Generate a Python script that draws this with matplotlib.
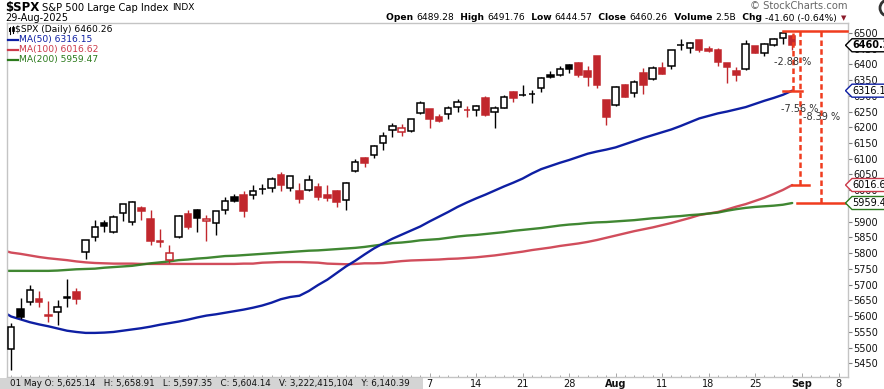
import matplotlib
matplotlib.use("Agg")
import matplotlib.pyplot as plt
import numpy as np
from matplotlib.lines import Line2D
from matplotlib.patches import Polygon, Rectangle, Circle
from matplotlib.transforms import IdentityTransform

W, H, DPI = 884, 389, 100

# daily candles, 30-Apr-2025 .. 29-Aug-2025 (trading days)
opens = [5494.9, 5621.9, 5644.1, 5654.6, 5602.2, 5612.4, 5659.4, 5676.8, 5802.9, 5850.5,
         5895.9, 5866.3, 5926.7, 5900.0, 5943.5, 5908.6, 5838.4, 5778.4, 5850.5, 5923.5,
         5936.2, 5901.3, 5894.9, 5936.2, 5977.5, 5984.8, 5983.8, 6003.2, 6006.0, 6048.2,
         6006.0, 5997.5, 6000.6, 6010.2, 5984.8, 5997.5, 5967.9, 6060.0, 6102.2, 6110.8,
         6148.9, 6190.1, 6183.8, 6188.9, 6244.1, 6257.8, 6232.4, 6240.9, 6263.2, 6254.0,
         6253.6, 6292.7, 6249.2, 6261.0, 6310.8, 6301.6, 6306.3, 6323.5, 6364.7, 6366.7,
         6396.5, 6403.8, 6378.4, 6426.0, 6286.3, 6269.5, 6333.0, 6307.6, 6371.1, 6352.1,
         6388.0, 6393.3, 6460.3, 6450.5, 6476.8, 6449.2, 6445.1, 6404.8, 6378.4, 6383.8,
         6457.8, 6434.6, 6460.0, 6482.2, 6489.28]
highs = [5577.4, 5656.8, 5698.1, 5680.0, 5648.2, 5651.4, 5718.1, 5689.5, 5842.0, 5905.4,
         5905.4, 5920.3, 5956.5, 5964.8, 5949.8, 5937.1, 5875.9, 5826.0, 5920.3, 5936.2,
         5939.4, 5921.3, 5934.0, 5977.5, 5987.0, 5997.5, 6016.5, 6018.7, 6042.9, 6058.7,
         6045.0, 6023.8, 6048.2, 6023.8, 6016.5, 6000.6, 6027.0, 6098.1, 6106.3, 6143.5,
         6183.8, 6212.4, 6209.2, 6226.0, 6282.2, 6259.0, 6240.9, 6268.2, 6288.6, 6268.2,
         6270.5, 6299.0, 6266.3, 6301.3, 6314.9, 6333.0, 6317.1, 6359.4, 6377.5, 6393.3,
         6401.6, 6406.0, 6393.3, 6427.0, 6287.5, 6329.8, 6336.2, 6348.9, 6388.9, 6393.3,
         6407.0, 6445.0, 6479.1, 6471.4, 6477.8, 6456.8, 6452.4, 6405.5, 6391.1, 6477.8,
         6458.5, 6466.3, 6482.2, 6506.3, 6491.76]
lows = [5429.2, 5591.1, 5636.5, 5630.1, 5582.5, 5572.0, 5630.1, 5639.7, 5782.5, 5839.7,
        5868.3, 5863.2, 5903.2, 5890.5, 5906.3, 5826.9, 5820.6, 5767.9, 5848.9, 5877.8,
        5868.3, 5839.7, 5858.7, 5925.4, 5963.5, 5915.9, 5973.0, 5988.9, 5995.3, 5998.4,
        5998.4, 5960.3, 5999.0, 5969.8, 5966.7, 5947.6, 5938.1, 6056.8, 6073.6, 6103.2,
        6128.6, 6169.8, 6173.0, 6185.7, 6243.0, 6198.4, 6215.5, 6227.0, 6249.2, 6233.3,
        6236.5, 6235.5, 6198.4, 6260.0, 6281.0, 6300.0, 6277.8, 6312.7, 6357.1, 6362.5,
        6373.0, 6359.4, 6331.7, 6325.4, 6207.9, 6268.0, 6295.0, 6296.8, 6306.3, 6350.0,
        6368.5, 6383.8, 6446.0, 6436.5, 6439.7, 6439.7, 6394.3, 6341.3, 6346.7, 6382.0,
        6435.5, 6426.0, 6456.8, 6463.2, 6444.57]
closes = [5564.8, 5598.4, 5682.2, 5646.0, 5603.5, 5628.3, 5660.6, 5655.5, 5840.9, 5882.2,
          5887.3, 5913.9, 5955.2, 5961.6, 5934.9, 5839.7, 5837.1, 5799.7, 5917.1, 5884.2,
          5910.8, 5908.6, 5933.0, 5965.0, 5966.7, 5934.9, 5997.5, 6004.4, 6035.6, 6017.5,
          6044.1, 5973.0, 6031.4, 5979.4, 5976.2, 5963.5, 6022.8, 6088.6, 6087.3, 6139.4,
          6171.1, 6202.8, 6196.5, 6225.1, 6275.9, 6227.0, 6220.6, 6260.0, 6279.0, 6255.3,
          6266.3, 6239.7, 6260.0, 6294.9, 6293.6, 6302.9, 6304.8, 6355.2, 6360.3, 6384.5,
          6385.7, 6366.7, 6360.3, 6334.9, 6233.3, 6326.7, 6296.8, 6342.5, 6334.9, 6387.0,
          6369.8, 6444.1, 6461.6, 6466.3, 6446.0, 6442.9, 6407.9, 6391.1, 6365.7, 6463.2,
          6436.5, 6464.1, 6479.1, 6498.1, 6460.26]
prev_close = 5560.8  # 29-Apr close, colours the first candle

# moving averages, 29-Apr .. 29-Aug (first point sits just left of the frame)
ma50 = [5616, 5599, 5590, 5581, 5574, 5568, 5561, 5554, 5550, 5547, 5547, 5548, 5550, 5554,
        5558, 5562, 5567, 5573, 5578, 5583, 5589, 5596, 5602, 5606, 5611, 5616, 5621, 5627,
        5634, 5643, 5654, 5661, 5665, 5680, 5699, 5716, 5737, 5758, 5776, 5796, 5815, 5831,
        5846, 5859, 5872, 5885, 5901, 5916, 5931, 5947, 5961, 5974, 5986, 5999, 6012, 6024,
        6037, 6053, 6067, 6077, 6087, 6096, 6106, 6116, 6123, 6129, 6136, 6146, 6156, 6166,
        6175, 6184, 6193, 6204, 6216, 6228, 6236, 6244, 6250, 6257, 6264, 6274, 6284, 6293,
        6303, 6316.15]
ma100 = [5810, 5802, 5798, 5793, 5788, 5784, 5781, 5778, 5774, 5771, 5769, 5768, 5767, 5767,
         5767, 5766, 5766, 5766, 5766, 5766, 5766, 5766, 5766, 5766, 5766, 5766, 5767, 5767,
         5770, 5771, 5772, 5772, 5772, 5771, 5770, 5767, 5766, 5765, 5766, 5768, 5768, 5769,
         5772, 5775, 5777, 5778, 5779, 5780, 5782, 5783, 5785, 5787, 5790, 5793, 5797, 5801,
         5805, 5810, 5814, 5818, 5823, 5827, 5831, 5836, 5842, 5849, 5856, 5863, 5870, 5876,
         5882, 5889, 5896, 5904, 5912, 5921, 5926, 5931, 5939, 5948, 5956, 5966, 5976, 5988,
         6001, 6016.62]
ma200 = [5744, 5744, 5744, 5744, 5744, 5744, 5745, 5747, 5749, 5750, 5751, 5754, 5756, 5758,
         5760, 5764, 5768, 5771, 5774, 5778, 5780, 5783, 5785, 5788, 5791, 5792, 5794, 5796,
         5798, 5800, 5802, 5804, 5806, 5808, 5809, 5811, 5813, 5815, 5817, 5820, 5824, 5828,
         5832, 5834, 5837, 5841, 5843, 5845, 5849, 5853, 5856, 5858, 5861, 5864, 5867, 5871,
         5874, 5877, 5880, 5884, 5888, 5891, 5893, 5896, 5898, 5899, 5901, 5903, 5905, 5908,
         5911, 5913, 5916, 5918, 5921, 5923, 5926, 5929, 5935, 5940, 5944, 5947, 5949, 5951,
         5954, 5959.47]

# visible week-start ticks (trading-day index) and labels; earlier ones sit under the info strip
tick_idx = [45, 50, 55, 60, 65, 70, 75, 80, 85, 89]
tick_lbl = ["7", "14", "21", "28", "Aug", "11", "18", "25", "Sep", "8"]
month_lbl = {"Aug", "Sep"}

# drawdown annotation: level of the recent high and the three measured gaps
peak_level = 6505
drop_labels = ["-2.88 %", "-7.56 %", "-8.39 %"]

header_vals = [("Open ", True), ("6489.28", False), ("  High ", True), ("6491.76", False),
               ("  Low ", True), ("6444.57", False), ("  Close ", True), ("6460.26", False),
               ("  Volume ", True), ("2.5B", False), ("  Chg ", True), ("-41.60 (-0.64%)", False)]
info_line = ("01 May O: 5,625.14   H: 5,658.91   L: 5,597.35   C: 5,604.14   "
             "V: 3,222,415,104   Y: 6,140.39")

C_RED = "#c1272d"
C_BLUE = "#0e1fa3"
C_MARED = "#cc3a4a"
C_GREEN = "#2b7a1c"
C_ANN = "#f03c1e"
C_FRAME = "#c4c4c4"

fig = plt.figure(figsize=(W / DPI, H / DPI), dpi=DPI)
ax = fig.add_axes([7.5 / W, 1 - 377 / H, (848 - 7.5) / W, (377 - 23) / H])
ax.set_xlim(-0.4, 90)
ax.set_ylim(5407, 6531)

n = len(closes)
x = np.arange(n)
o, h, l, c = map(np.asarray, (opens, highs, lows, closes))
prev = np.concatenate([[prev_close], c[:-1]])
edge = np.where(c >= prev, "#000000", C_RED)
hollow = c > o

xm = np.arange(-1, n)
ax.plot(xm, ma100, color=C_MARED, lw=1.7, alpha=0.9, zorder=2, solid_capstyle="round")
ax.plot(xm, ma200, color=C_GREEN, lw=1.7, alpha=0.9, zorder=2, solid_capstyle="round")
ax.plot(xm, ma50, color=C_BLUE, lw=1.7, zorder=2, solid_capstyle="round")

ax.vlines(x, l, h, colors=edge, lw=1.0, zorder=3)
body_lo = np.minimum(o, c)
body_h = np.maximum(np.abs(c - o), 0.3)
face = np.where(hollow, "white", edge)
ax.bar(x, body_h, bottom=body_lo, width=0.7, color=face, edgecolor=edge,
       linewidth=1.1, zorder=4)

# drawdown markers to the right of the last candle
last = n - 1
ax.plot([last - 1, 89.9], [peak_level] * 2, color=C_ANN, lw=1.8, zorder=5, clip_on=False)
ax.vlines([last + 0.1, last + 0.8, last + 3.1], [ma50[-1], ma100[-1], ma200[-1]], peak_level,
          colors=C_ANN, lw=1.8, linestyles=(0, (2.2, 1.3)), zorder=5)
ax.plot([last - 1, last + 1.1], [ma50[-1]] * 2, color=C_ANN, lw=1.8, zorder=5)
ax.plot([last, last + 1.8], [ma100[-1]] * 2, color=C_ANN, lw=1.8, zorder=5)
ax.plot([last + 0.5, 89.9], [ma200[-1]] * 2, color=C_ANN, lw=1.8, zorder=5, clip_on=False)
for xi, yi, s in zip([last + 0.05, last + 0.8, last + 3.2], [6408, 6259, 6231], drop_labels):
    ax.text(xi, yi, s, ha="center", va="center", fontsize=7, color="#333333", zorder=6)

# axes styling
for sp in ax.spines.values():
    sp.set_color(C_FRAME)
    sp.set_linewidth(1)
ax.yaxis.tick_right()
ax.set_yticks(np.arange(5450, 6501, 50))
ax.tick_params(axis="y", length=3, width=0.8, color="#808080", labelsize=7,
               labelcolor="#111111", pad=1)
ax.set_xticks(tick_idx)
ax.set_xticklabels(tick_lbl)
ax.set_xticks(np.arange(0, 90), minor=True)
ax.tick_params(axis="x", which="major", length=3, width=0.6, color="#999999",
               labelsize=7, labelcolor="#111111", pad=1.5, direction="in")
ax.tick_params(axis="x", which="minor", length=1.5, width=0.6, color="#999999",
               direction="in")
for t in ax.get_xticklabels():
    if t.get_text() in month_lbl:
        t.set_fontweight("bold")

ident = IdentityTransform()


def fy(ypix):
    return H - ypix


# right-hand price tags
def price_tag(value, label, col, bold=False):
    yd = ax.transData.transform((0, value))[1]
    x0 = ax.transAxes.transform((1, 0))[0]
    hh = 6.5
    pts = [(x0 - 2.5, yd), (x0 + 4, yd + hh), (W + 5, yd + hh), (W + 5, yd - hh), (x0 + 4, yd - hh)]
    fig.add_artist(Polygon(pts, closed=True, facecolor="white", edgecolor=col, lw=1,
                           transform=ident, zorder=10))
    fig.text(x0 + 4.5, yd, label, transform=ident, va="center", ha="left", fontsize=7,
             fontweight="bold" if bold else "normal", color="black", zorder=11)


price_tag(closes[-1], f"{closes[-1]:.2f}", "#000000", bold=True)
price_tag(ma50[-1], f"{ma50[-1]:.2f}", C_BLUE)
price_tag(ma100[-1], f"{ma100[-1]:.2f}", C_MARED)
price_tag(ma200[-1], f"{ma200[-1]:.2f}", C_GREEN)

# header
fig.text(5, fy(8), "$SPX", transform=ident, fontsize=8.5, fontweight="bold", va="center")
fig.text(42, fy(8), "S&P 500 Large Cap Index", transform=ident, fontsize=7.2, va="center")
fig.text(172, fy(8), "INDX", transform=ident, fontsize=6.5, va="center")
fig.text(5, fy(18), "29-Aug-2025", transform=ident, fontsize=7, va="center")
fig.text(848, fy(6), "\u00a9 StockCharts.com", transform=ident, fontsize=7.2,
         color="#666666", va="center", ha="right")
fig.add_artist(Circle((888, fy(8)), 8, transform=ident, facecolor="white",
                      edgecolor="#333333", lw=2, zorder=5))

renderer = fig.canvas.get_renderer()
items = []
for s, b in header_vals:
    t = fig.text(0, fy(18), s, transform=ident, fontsize=6.6, va="center",
                 fontweight="bold" if b else "normal")
    items.append((t, t.get_window_extent(renderer).width))
xpos = 837 - sum(wd for _, wd in items)
for t, wd in items:
    t.set_x(xpos)
    xpos += wd
fig.text(844, fy(18), "\u25bc", transform=ident, fontsize=5, color="#8b1a2a", va="center",
         ha="center")

# legend
legend = [("$SPX (Daily) " + f"{closes[-1]:.2f}", "#000000"),
          (f"MA(50) {ma50[-1]:.2f}", C_BLUE),
          (f"MA(100) {ma100[-1]:.2f}", C_MARED),
          (f"MA(200) {ma200[-1]:.2f}", C_GREEN)]
for k, (s, col) in enumerate(legend):
    yl = fy(29.5 + 10 * k)
    fig.text(15 if k == 0 else 19, yl, s, transform=ident, fontsize=6.6, color=col, va="center")
    if k:
        fig.add_artist(Line2D([8, 17.5], [yl, yl], color=col, lw=1.6, transform=ident))
    else:
        fig.add_artist(Line2D([10, 10], [yl - 4, yl + 3], color="black", lw=0.8, transform=ident))
        fig.add_artist(Rectangle((8.8, yl - 2), 2.4, 4, facecolor="black", transform=ident))
        fig.add_artist(Line2D([13, 13], [yl - 3, yl + 4], color="black", lw=0.8, transform=ident))
        fig.add_artist(Rectangle((11.8, yl - 1), 2.4, 4, facecolor="white", edgecolor="black",
                                 lw=0.6, transform=ident))

# info strip at the bottom-left
fig.add_artist(Rectangle((0, 0), 423, fy(377.5), facecolor="#d4d4d4", edgecolor="none",
                         transform=ident, zorder=8))
fig.text(10, fy(383.5), info_line, transform=ident, fontsize=6.3, va="center",
         color="#111111", zorder=9)

fig.savefig("out.png", dpi=DPI)
